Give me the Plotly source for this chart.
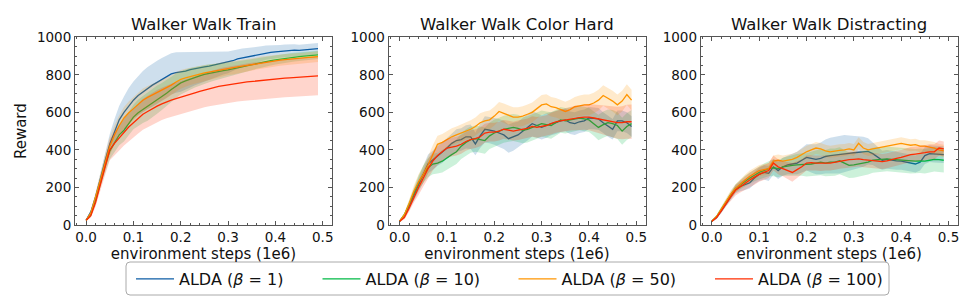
import plotly.graph_objects as go

steps = [round(i * 0.01, 2) for i in range(50)]

panel_titles = ["Walker Walk Train", "Walker Walk Color Hard", "Walker Walk Distracting"]
series_names = ["ALDA (<i>β</i> = 1)", "ALDA (<i>β</i> = 10)", "ALDA (<i>β</i> = 50)", "ALDA (<i>β</i> = 100)"]
x_ticks = [0.0, 0.1, 0.2, 0.3, 0.4, 0.5]
y_ticks = [0, 200, 400, 600, 800, 1000]

# ---------------- Walker Walk Train ----------------
train_b1 = [25, 70, 150, 250, 340, 430, 500, 560, 600, 635,
            665, 690, 710, 730, 745, 760, 775, 790, 805, 812,
            815, 820, 828, 834, 838, 842, 846, 852, 858, 862,
            866, 875, 885, 890, 895, 900, 905, 912, 918, 920,
            922, 925, 928, 930, 932, 930, 932, 935, 938, 940]
train_b10 = [25, 55, 130, 225, 315, 395, 440, 480, 505, 540,
             575, 598, 615, 630, 650, 668, 685, 702, 722, 742,
             757, 768, 778, 787, 795, 802, 808, 813, 818, 822,
             826, 832, 838, 844, 850, 855, 860, 866, 872, 876,
             880, 884, 888, 891, 894, 897, 900, 902, 904, 906]
train_b50 = [25, 65, 150, 245, 335, 420, 480, 530, 570, 598,
             620, 645, 665, 680, 693, 705, 718, 730, 745, 762,
             776, 784, 792, 798, 804, 810, 815, 820, 826, 830,
             835, 838, 842, 846, 850, 855, 860, 865, 870, 872,
             875, 878, 881, 884, 886, 888, 890, 893, 895, 897]
train_b100 = [25, 50, 120, 215, 310, 400, 435, 465, 495, 522,
              545, 568, 590, 605, 620, 633, 645, 656, 665, 673,
              680, 688, 696, 704, 712, 720, 726, 732, 738, 743,
              748, 751, 755, 759, 762, 765, 768, 771, 774, 776,
              778, 780, 782, 784, 786, 788, 790, 791, 792, 794]
train_s1 = [5, 10, 20, 30, 40, 55, 65, 75, 85, 95,
            100, 105, 110, 112, 115, 115, 115, 112, 110, 108,
            105, 100, 95, 90, 85, 80, 75, 70, 65, 60,
            58, 55, 52, 50, 48, 45, 42, 40, 38, 36,
            35, 34, 33, 32, 31, 30, 30, 30, 30, 30]
train_s10 = [5, 10, 18, 28, 38, 45, 50, 55, 60, 62,
             65, 70, 72, 75, 75, 75, 72, 70, 68, 65,
             62, 60, 58, 55, 52, 50, 48, 45, 42, 40,
             38, 36, 34, 32, 30, 30, 28, 28, 26, 26,
             25, 25, 24, 24, 23, 23, 22, 22, 22, 22]
train_s50 = [5, 10, 20, 30, 40, 48, 52, 55, 58, 60,
             62, 62, 62, 60, 60, 58, 56, 55, 54, 52,
             50, 48, 46, 45, 44, 42, 40, 40, 38, 38,
             36, 36, 35, 34, 34, 33, 32, 32, 31, 30,
             30, 30, 30, 29, 29, 28, 28, 28, 28, 28]
train_s100 = [5, 12, 22, 35, 45, 55, 62, 68, 72, 75,
              78, 80, 82, 84, 85, 86, 86, 87, 88, 88,
              89, 90, 90, 91, 92, 93, 94, 94, 95, 96,
              96, 97, 97, 98, 98, 99, 99, 100, 100, 100,
              100, 101, 101, 102, 102, 102, 103, 103, 103, 103]

# ---------------- Walker Walk Color Hard ----------------
color_b1 = [20, 50, 100, 160, 215, 270, 325, 345, 370, 385,
            410, 435, 450, 455, 470, 470, 432, 475, 510, 505,
            500, 490, 480, 460, 470, 480, 500, 520, 540, 530,
            520, 530, 540, 545, 555, 560, 545, 540, 550, 555,
            570, 568, 565, 545, 525, 510, 555, 555, 545, 525]
color_b10 = [20, 55, 110, 170, 225, 270, 305, 325, 330, 340,
             360, 375, 390, 420, 440, 455, 460, 455, 450, 475,
             490, 500, 510, 515, 520, 515, 505, 510, 520, 530,
             540, 535, 530, 545, 560, 555, 560, 565, 570, 565,
             560, 540, 520, 535, 545, 540, 530, 500, 525, 540]
color_b50 = [20, 55, 115, 180, 230, 270, 320, 380, 430, 440,
             455, 470, 480, 490, 500, 510, 525, 545, 555, 560,
             580, 605, 595, 585, 575, 575, 580, 590, 600, 620,
             640, 645, 630, 625, 615, 605, 615, 630, 635, 640,
             640, 650, 665, 690, 675, 660, 640, 660, 695, 665]
color_b100 = [20, 40, 90, 150, 200, 250, 300, 340, 370, 390,
              410, 415, 420, 430, 445, 455, 460, 470, 490, 495,
              495, 500, 510, 505, 500, 505, 510, 515, 525, 520,
              525, 530, 540, 550, 555, 560, 565, 570, 572, 575,
              575, 570, 565, 560, 555, 550, 545, 545, 550, 550]
color_s1 = [5, 10, 20, 30, 40, 45, 50, 50, 55, 55,
            55, 55, 60, 60, 62, 65, 60, 65, 70, 70,
            72, 75, 75, 75, 75, 70, 70, 70, 68, 65,
            65, 65, 62, 60, 60, 60, 60, 60, 60, 60,
            58, 58, 58, 55, 55, 55, 55, 55, 55, 55]
color_s10 = [5, 10, 20, 30, 40, 45, 50, 55, 55, 60,
             62, 65, 65, 68, 70, 70, 70, 70, 70, 70,
             72, 72, 72, 72, 72, 72, 70, 70, 70, 70,
             70, 70, 70, 68, 68, 68, 65, 65, 65, 65,
             65, 65, 68, 70, 70, 72, 72, 72, 72, 72]
color_s50 = [5, 10, 20, 30, 40, 45, 45, 45, 45, 45,
             45, 45, 45, 45, 45, 48, 48, 50, 50, 50,
             50, 50, 52, 52, 52, 52, 52, 52, 52, 52,
             52, 52, 52, 52, 52, 52, 52, 52, 55, 55,
             55, 55, 55, 55, 55, 55, 55, 55, 55, 55]
color_s100 = [5, 10, 20, 30, 40, 45, 50, 50, 50, 50,
              50, 50, 50, 50, 50, 50, 50, 50, 50, 50,
              50, 50, 50, 50, 50, 52, 52, 52, 55, 55,
              55, 55, 58, 58, 60, 60, 62, 65, 65, 68,
              70, 72, 75, 78, 80, 82, 85, 88, 90, 92]

# ---------------- Walker Walk Distracting ----------------
dist_b1 = [20, 40, 75, 115, 155, 190, 205, 215, 225, 250,
           270, 280, 275, 310, 290, 310, 320, 325, 330, 345,
           360, 355, 350, 355, 365, 370, 372, 375, 380, 382,
           385, 388, 390, 392, 380, 360, 345, 350, 345, 342,
           340, 335, 330, 325, 335, 370, 380, 378, 375, 375]
dist_b10 = [20, 45, 85, 125, 160, 195, 215, 235, 250, 265,
            280, 290, 300, 305, 300, 310, 315, 318, 320, 322,
            320, 325, 330, 335, 330, 335, 335, 342, 330, 318,
            320, 325, 328, 335, 345, 348, 350, 352, 350, 348,
            345, 342, 340, 340, 342, 340, 345, 350, 348, 345]
dist_b50 = [20, 45, 85, 125, 165, 195, 220, 240, 260, 275,
            290, 295, 300, 340, 345, 340, 345, 350, 360, 375,
            390, 400, 410, 405, 395, 390, 395, 398, 400, 405,
            400, 435, 410, 400, 405, 410, 415, 420, 425, 430,
            435, 430, 425, 428, 420, 420, 415, 410, 400, 395]
dist_b100 = [20, 40, 75, 115, 150, 185, 205, 225, 240, 255,
             270, 280, 290, 330, 310, 300, 290, 280, 295, 310,
             330, 332, 330, 328, 330, 330, 335, 340, 345, 348,
             350, 352, 348, 345, 342, 340, 338, 342, 350, 355,
             360, 368, 375, 378, 380, 385, 390, 390, 410, 405]
dist_s1 = [5, 8, 12, 15, 20, 22, 25, 28, 30, 32,
           35, 38, 40, 42, 45, 48, 50, 55, 60, 65,
           70, 75, 80, 85, 90, 95, 98, 100, 100, 95,
           90, 85, 80, 70, 60, 55, 50, 50, 48, 48,
           45, 45, 45, 45, 45, 45, 45, 45, 45, 45]
dist_s10 = [5, 8, 12, 15, 20, 22, 25, 28, 30, 32,
            35, 38, 40, 45, 45, 48, 50, 55, 58, 60,
            62, 65, 68, 70, 70, 72, 72, 72, 70, 68,
            68, 66, 66, 66, 66, 66, 66, 66, 65, 65,
            65, 65, 65, 65, 65, 65, 65, 65, 65, 65]
dist_s50 = [5, 8, 12, 15, 20, 22, 25, 28, 30, 30,
            30, 30, 30, 30, 30, 30, 30, 30, 30, 32,
            32, 32, 32, 32, 32, 32, 32, 32, 32, 32,
            32, 32, 32, 32, 32, 32, 32, 32, 32, 32,
            32, 32, 32, 32, 32, 32, 32, 32, 32, 32]
dist_s100 = [5, 8, 12, 15, 22, 28, 32, 35, 38, 40,
             40, 40, 40, 40, 40, 40, 45, 50, 45, 40,
             40, 40, 40, 40, 40, 40, 40, 40, 40, 40,
             40, 40, 40, 40, 40, 40, 40, 40, 40, 40,
             40, 40, 40, 40, 40, 40, 40, 40, 40, 40]

panels = [
    ([train_b1, train_b10, train_b50, train_b100], [train_s1, train_s10, train_s50, train_s100]),
    ([color_b1, color_b10, color_b50, color_b100], [color_s1, color_s10, color_s50, color_s100]),
    ([dist_b1, dist_b10, dist_b50, dist_b100], [dist_s1, dist_s10, dist_s50, dist_s100]),
]

colors = ["#0C5DA5", "#00B945", "#FF9500", "#FF2C00"]
fills = ["rgba(12,93,165,0.2)", "rgba(0,185,69,0.2)", "rgba(255,149,0,0.2)", "rgba(255,44,0,0.2)"]

FONT = "DejaVu Sans"
AX = "#555555"
W, H = 975, 300
x_domains = [[0.0769, 0.3405], [0.3985, 0.6621], [0.7187, 0.9823]]
y_domain = [0.25, 0.8757]
legend_names = ["legend", "legend2", "legend3", "legend4"]
legend_text_px = [181, 367.5, 563.5, 760]   # left edge of each legend label (pixels)

fig = go.Figure()
for p, (means, stds) in enumerate(panels):
    xa = "x" if p == 0 else f"x{p+1}"
    ya = "y" if p == 0 else f"y{p+1}"
    for k in range(4):
        m, s = means[k], stds[k]
        hi = [a + b for a, b in zip(m, s)]
        lo = [a - b for a, b in zip(m, s)]
        fig.add_trace(go.Scatter(
            x=steps + steps[::-1], y=hi + lo[::-1], fill="toself",
            fillcolor=fills[k], line=dict(width=0), mode="lines",
            hoverinfo="skip", showlegend=False, xaxis=xa, yaxis=ya))
        fig.add_trace(go.Scatter(
            x=steps, y=m, mode="lines", line=dict(color=colors[k], width=1.3),
            name=series_names[k], showlegend=(p == 0), legend=legend_names[k],
            xaxis=xa, yaxis=ya))

layout = dict(
    width=W, height=H,
    margin=dict(l=0, r=0, t=0, b=0),
    paper_bgcolor="white", plot_bgcolor="white",
    font=dict(family=FONT, size=13, color="#111111"),
    showlegend=True,
    annotations=[],
)
for k, ln in enumerate(legend_names):
    layout[ln] = dict(
        orientation="h", x=(legend_text_px[k] - 50) / W, xanchor="left",
        y=1 - 279 / H, yanchor="middle",
        font=dict(family=FONT, size=16, color="#111111"),
        bgcolor="rgba(0,0,0,0)", borderwidth=0, itemwidth=38,
    )

# legend frame (rounded rectangle) in paper coordinates
bx0, bx1, by0, by1, r = 126 / W, 889 / W, 1 - 295 / H, 1 - 262 / H, 4
rx, ry = r / W, r / H
frame = (f"M{bx0+rx},{by1} L{bx1-rx},{by1} Q{bx1},{by1} {bx1},{by1-ry} "
         f"L{bx1},{by0+ry} Q{bx1},{by0} {bx1-rx},{by0} L{bx0+rx},{by0} "
         f"Q{bx0},{by0} {bx0},{by0+ry} L{bx0},{by1-ry} Q{bx0},{by1} {bx0+rx},{by1} Z")
layout["shapes"] = [dict(type="path", xref="paper", yref="paper", path=frame,
                         line=dict(color="#aaaaaa", width=1), layer="below")]

for p in range(3):
    sfx = "" if p == 0 else str(p + 1)
    layout["xaxis" + sfx] = dict(
        domain=x_domains[p], anchor="y" + sfx, range=[-0.0235, 0.5195],
        tickvals=x_ticks, tickformat=".1f", ticks="inside", ticklen=4,
        tickwidth=1, tickcolor=AX, showline=True, linecolor=AX, linewidth=1,
        mirror="ticks", showgrid=False, zeroline=False, automargin=False,
        tickfont=dict(family=FONT, size=13.5, color="#111111"),
        minor=dict(dtick=0.02, ticks="inside", ticklen=2, tickcolor=AX, showgrid=False),
        title=dict(text="environment steps (1e6)", standoff=2,
                   font=dict(family=FONT, size=15, color="#111111")),
    )
    layout["yaxis" + sfx] = dict(
        domain=y_domain, anchor="x" + sfx, range=[0, 1000],
        tickvals=y_ticks, ticks="inside", ticklen=4,
        tickwidth=1, tickcolor=AX, showline=True, linecolor=AX, linewidth=1,
        mirror="ticks", showgrid=False, zeroline=False, automargin=False,
        tickfont=dict(family=FONT, size=13.5, color="#111111"),
        minor=dict(dtick=50, ticks="inside", ticklen=2, tickcolor=AX, showgrid=False),
        title=dict(text="Reward" if p == 0 else "", standoff=6,
                   font=dict(family=FONT, size=15, color="#111111")),
    )
    layout["annotations"].append(dict(
        text=panel_titles[p], xref="paper", yref="paper",
        x=sum(x_domains[p]) / 2, y=y_domain[1], xanchor="center", yanchor="bottom",
        yshift=1, showarrow=False, font=dict(family=FONT, size=16.5, color="#111111")))

fig.update_layout(**layout)
fig.write_html("out.html", config={"displayModeBar": False},
               post_script="document.body.style.margin='0px';")
